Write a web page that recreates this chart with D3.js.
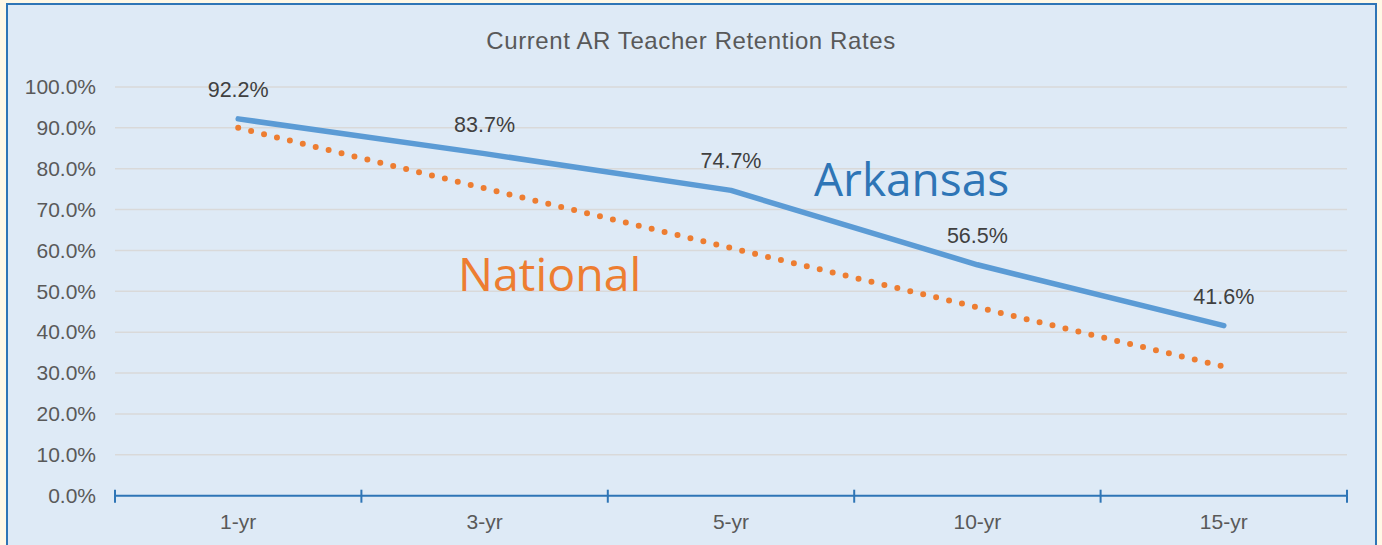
<!DOCTYPE html>
<html>
<head>
<meta charset="utf-8">
<script src="https://cdn.jsdelivr.net/npm/d3@7"></script>
<style>
  html, body { margin: 0; padding: 0; background: #fff8e6; }
  svg { display: block; }
</style>
</head>
<body>
<svg id="chart" width="1382" height="545"></svg>
<script>
const categories = ["1-yr", "3-yr", "5-yr", "10-yr", "15-yr"];
const arkansas = [92.2, 83.7, 74.7, 56.5, 41.6];
const national = [90.0, 75.2, 60.6, 46.1, 31.6];
const yTicks = [0, 10, 20, 30, 40, 50, 60, 70, 80, 90, 100];

const width = 1382, height = 545;
const margin = { left: 115, right: 35, top: 87, bottom: 49 };
const font = "Liberation Sans, Arial, sans-serif";

const svg = d3.select("#chart");

// chart area background + border
svg.append("rect")
    .attr("x", 7).attr("y", 4)
    .attr("width", 1369).attr("height", 560)
    .attr("fill", "#deeaf6")
    .attr("stroke", "#2e75b6")
    .attr("stroke-width", 2);

const x = d3.scaleBand().domain(categories).range([margin.left, width - margin.right]);
const y = d3.scaleLinear().domain([0, 100]).range([height - margin.bottom - 0.3, margin.top]);

// title
svg.append("text")
    .attr("x", 691).attr("y", 48.5)
    .attr("text-anchor", "middle")
    .attr("font-family", font)
    .attr("font-size", 24)
    .attr("letter-spacing", 0.6)
    .attr("fill", "#595959")
    .text("Current AR Teacher Retention Rates");

// gridlines
svg.append("g")
    .selectAll("line")
    .data(yTicks.filter(d => d > 0))
    .enter().append("line")
    .attr("x1", margin.left).attr("x2", width - margin.right)
    .attr("y1", d => y(d)).attr("y2", d => y(d))
    .attr("stroke", "#d9d9d9").attr("stroke-width", 1.5);

// y axis labels
const yAxis = svg.append("g")
    .attr("transform", `translate(${margin.left},0)`)
    .call(d3.axisLeft(y).tickValues(yTicks).tickFormat(d => d3.format(".1f")(d) + "%").tickSize(0).tickPadding(19));
yAxis.select(".domain").remove();
yAxis.selectAll("text")
    .attr("font-family", font)
    .attr("font-size", 21)
    .attr("fill", "#595959");

// x axis
const xAxisY = y(0);
const xg = svg.append("g");
xg.append("line")
    .attr("x1", margin.left).attr("x2", width - margin.right)
    .attr("y1", xAxisY).attr("y2", xAxisY)
    .attr("stroke", "#2e75b6").attr("stroke-width", 2);
const bounds = categories.map(c => x(c)).concat([x(categories[categories.length - 1]) + x.bandwidth()]);
xg.selectAll(".tick-mark")
    .data(bounds)
    .enter().append("line")
    .attr("x1", d => d).attr("x2", d => d)
    .attr("y1", xAxisY - 6).attr("y2", xAxisY + 7)
    .attr("stroke", "#2e75b6").attr("stroke-width", 2);
xg.selectAll(".xlabel")
    .data(categories)
    .enter().append("text")
    .attr("x", d => x(d) + x.bandwidth() / 2)
    .attr("y", xAxisY + 33)
    .attr("text-anchor", "middle")
    .attr("font-family", font)
    .attr("font-size", 21)
    .attr("fill", "#595959")
    .text(d => d);

const cx = (d, i) => x(categories[i]) + x.bandwidth() / 2;

// national dotted line
svg.append("path")
    .datum(national)
    .attr("fill", "none")
    .attr("stroke", "#ed7d31")
    .attr("stroke-width", 6)
    .attr("stroke-linecap", "round")
    .attr("stroke-dasharray", "0 13.3")
    .attr("d", d3.line().x(cx).y(d => y(d)));

// arkansas line
svg.append("path")
    .datum(arkansas)
    .attr("fill", "none")
    .attr("stroke", "#5b9bd5")
    .attr("stroke-width", 5.5)
    .attr("stroke-linecap", "round")
    .attr("stroke-linejoin", "round")
    .attr("d", d3.line().x(cx).y(d => y(d)));

// data labels
svg.append("g")
    .selectAll("text")
    .data(arkansas)
    .enter().append("text")
    .attr("x", cx)
    .attr("y", d => y(d) - 22)
    .attr("text-anchor", "middle")
    .attr("font-family", font)
    .attr("font-size", 21.5)
    .attr("fill", "#404040")
    .text(d => d3.format(".1f")(d) + "%");

// series name labels
svg.append("text")
    .attr("x", 814).attr("y", 196)
    .attr("font-family", "Open Sans, Lato, sans-serif")
    .attr("font-size", 46)
    .attr("fill", "#2e75b6")
    .text("Arkansas");
svg.append("text")
    .attr("x", 458).attr("y", 291)
    .attr("font-family", "Open Sans, Lato, sans-serif")
    .attr("font-size", 46.5)
    .attr("fill", "#ed7d31")
    .text("National");
</script>
</body>
</html>
